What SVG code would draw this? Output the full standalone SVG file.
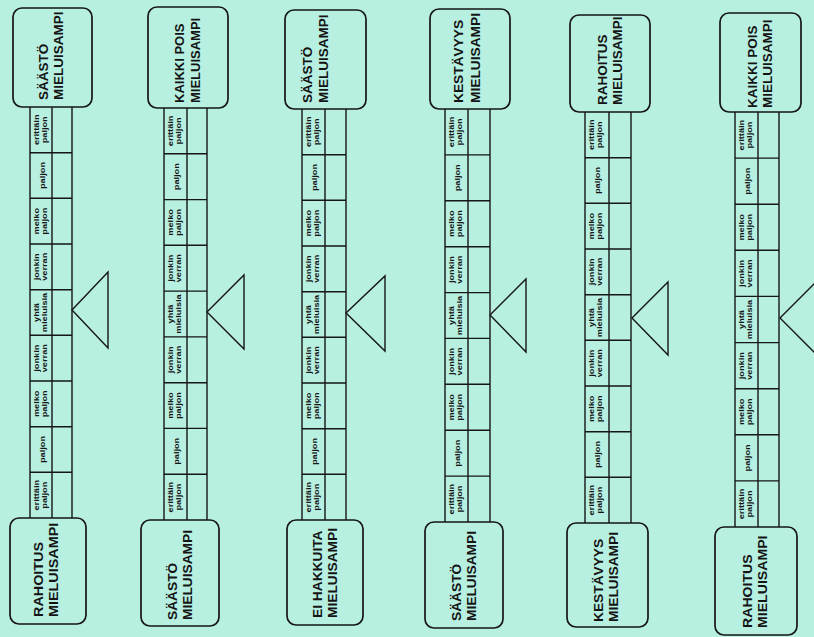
<svg xmlns="http://www.w3.org/2000/svg" width="814" height="637" viewBox="0 0 814 637">
<style>
.bg{fill:#b7efe1}
.box{fill:none;stroke:#161616;stroke-width:1.7}
.ln{fill:none;stroke:#161616;stroke-width:1.4}
.tri{fill:none;stroke:#161616;stroke-width:1.4;stroke-linejoin:miter}
.lbl{font-family:"Liberation Sans",Arial,sans-serif;font-weight:bold;font-size:12.5px;fill:#141414}
.cell{font-family:"Liberation Sans",Arial,sans-serif;font-weight:bold;font-size:8px;fill:#141414;text-anchor:middle}
</style>
<rect class="bg" x="0" y="0" width="814" height="637"/>

<g id="connectors">
<path class="ln" d="M30 107V518M52 107V518M72 107V518M30 152.7H72M30 198.3H72M30 244H72M30 289.7H72M30 335.3H72M30 381H72M30 426.7H72M30 472.3H72"/>
<path class="ln" d="M164 108V520M187 108V520M207 108V520M164 153.8H207M164 199.6H207M164 245.3H207M164 291.1H207M164 336.9H207M164 382.7H207M164 428.4H207M164 474.2H207"/>
<path class="ln" d="M302 109V520M325 109V520M346 109V520M302 154.7H346M302 200.3H346M302 246H346M302 291.7H346M302 337.3H346M302 383H346M302 428.7H346M302 474.3H346"/>
<path class="ln" d="M445 109V522M468 109V522M490 109V522M445 154.9H490M445 200.8H490M445 246.7H490M445 292.6H490M445 338.4H490M445 384.3H490M445 430.2H490M445 476.1H490"/>
<path class="ln" d="M585 112V523M609 112V523M631 112V523M585 157.7H631M585 203.3H631M585 249H631M585 294.7H631M585 340.3H631M585 386H631M585 431.7H631M585 477.3H631"/>
<path class="ln" d="M735 112V527M758 112V527M779 112V527M735 158.1H779M735 204.2H779M735 250.3H779M735 296.4H779M735 342.6H779M735 388.7H779M735 434.8H779M735 480.9H779"/>
</g>

<g id="pointers">
<polygon class="tri" points="72,310 108,272 108,348"/>
<polygon class="tri" points="207,312 244,275 244,349"/>
<polygon class="tri" points="346,313 385,276 385,351"/>
<polygon class="tri" points="490,315 526,279 526,352"/>
<polygon class="tri" points="632,318 668,282 668,355"/>
<polygon class="tri" points="780,318 816,282 816,354"/>
</g>

<g id="col1-top"><rect class="box" x="13" y="8" width="79" height="99" rx="9"/>
<text class="lbl" transform="translate(48,100) rotate(-90) scale(1.08,1)">SÄÄSTÖ<tspan x="0" dy="15">MIELUISAMPI</tspan></text></g>
<g id="col1-bottom"><rect class="box" x="10" y="518" width="76" height="106" rx="9"/>
<text class="lbl" transform="translate(43,617) rotate(-90) scale(1.15,1)">RAHOITUS<tspan x="0" dy="15">MIELUISAMPI</tspan></text></g>

<g id="col2-top"><rect class="box" x="148" y="7" width="80" height="101" rx="9"/>
<text class="lbl" transform="translate(184,103) rotate(-90) scale(1.04,1)">KAIKKI POIS<tspan x="0" dy="16">MIELUISAMPI</tspan></text></g>
<g id="col2-bottom"><rect class="box" x="141" y="520" width="78" height="106" rx="9"/>
<text class="lbl" transform="translate(177,620) rotate(-90) scale(1.1,1)">SÄÄSTÖ<tspan x="0" dy="15">MIELUISAMPI</tspan></text></g>

<g id="col3-top"><rect class="box" x="285" y="10" width="81" height="99" rx="9"/>
<text class="lbl" transform="translate(312,103) rotate(-90) scale(1.08,1)">SÄÄSTÖ<tspan x="0" dy="16">MIELUISAMPI</tspan></text></g>
<g id="col3-bottom"><rect class="box" x="287" y="520" width="76" height="105" rx="9"/>
<text class="lbl" transform="translate(322,618) rotate(-90) scale(1.1,1)">EI HAKKUITA<tspan x="0" dy="15">MIELUISAMPI</tspan></text></g>

<g id="col4-top"><rect class="box" x="430" y="9" width="80" height="100" rx="9"/>
<text class="lbl" transform="translate(463,103) rotate(-90) scale(1.1,1)">KESTÄVYYS<tspan x="0" dy="17">MIELUISAMPI</tspan></text></g>
<g id="col4-bottom"><rect class="box" x="425" y="522" width="78" height="106" rx="9"/>
<text class="lbl" transform="translate(461,621) rotate(-90) scale(1.1,1)">SÄÄSTÖ<tspan x="0" dy="15">MIELUISAMPI</tspan></text></g>

<g id="col5-top"><rect class="box" x="570" y="15" width="80" height="97" rx="9"/>
<text class="lbl" transform="translate(607,105) rotate(-90) scale(1.08,1)">RAHOITUS<tspan x="0" dy="15">MIELUISAMPI</tspan></text></g>
<g id="col5-bottom"><rect class="box" x="567" y="523" width="81" height="104" rx="9"/>
<text class="lbl" transform="translate(603,622) rotate(-90) scale(1.1,1)">KESTÄVYYS<tspan x="0" dy="15">MIELUISAMPI</tspan></text></g>

<g id="col6-top"><rect class="box" x="720" y="13" width="81" height="99" rx="9"/>
<text class="lbl" transform="translate(757,108) rotate(-90) scale(1.08,1)">KAIKKI POIS<tspan x="0" dy="15">MIELUISAMPI</tspan></text></g>
<g id="col6-bottom"><rect class="box" x="715" y="527" width="82" height="108" rx="9"/>
<text class="lbl" transform="translate(752,628) rotate(-90) scale(1.13,1)">RAHOITUS<tspan x="0" dy="15">MIELUISAMPI</tspan></text></g>

<g id="col1-cells">
<text class="cell" transform="translate(38.5,129.8) rotate(-90) scale(1.15,1)">erittäin<tspan x="0" dy="8.5">paljon</tspan></text>
<text class="cell" transform="translate(44.5,175.5) rotate(-90) scale(1.15,1)">paljon</text>
<text class="cell" transform="translate(38.5,221.2) rotate(-90) scale(1.15,1)">melko<tspan x="0" dy="8.5">paljon</tspan></text>
<text class="cell" transform="translate(38.5,266.8) rotate(-90) scale(1.15,1)">jonkin<tspan x="0" dy="8.5">verran</tspan></text>
<text class="cell" transform="translate(38.5,312.5) rotate(-90) scale(1.15,1)">yhtä<tspan x="0" dy="8.5">mieluisia</tspan></text>
<text class="cell" transform="translate(38.5,358.2) rotate(-90) scale(1.15,1)">jonkin<tspan x="0" dy="8.5">verran</tspan></text>
<text class="cell" transform="translate(38.5,403.8) rotate(-90) scale(1.15,1)">melko<tspan x="0" dy="8.5">paljon</tspan></text>
<text class="cell" transform="translate(44.5,449.5) rotate(-90) scale(1.15,1)">paljon</text>
<text class="cell" transform="translate(38.5,495.2) rotate(-90) scale(1.15,1)">erittäin<tspan x="0" dy="8.5">paljon</tspan></text>
</g>
<g id="col2-cells">
<text class="cell" transform="translate(172.5,130.9) rotate(-90) scale(1.15,1)">erittäin<tspan x="0" dy="8.5">paljon</tspan></text>
<text class="cell" transform="translate(178.5,176.7) rotate(-90) scale(1.15,1)">paljon</text>
<text class="cell" transform="translate(172.5,222.4) rotate(-90) scale(1.15,1)">melko<tspan x="0" dy="8.5">paljon</tspan></text>
<text class="cell" transform="translate(172.5,268.2) rotate(-90) scale(1.15,1)">jonkin<tspan x="0" dy="8.5">verran</tspan></text>
<text class="cell" transform="translate(172.5,314) rotate(-90) scale(1.15,1)">yhtä<tspan x="0" dy="8.5">mieluisia</tspan></text>
<text class="cell" transform="translate(172.5,359.8) rotate(-90) scale(1.15,1)">jonkin<tspan x="0" dy="8.5">verran</tspan></text>
<text class="cell" transform="translate(172.5,405.6) rotate(-90) scale(1.15,1)">melko<tspan x="0" dy="8.5">paljon</tspan></text>
<text class="cell" transform="translate(178.5,451.3) rotate(-90) scale(1.15,1)">paljon</text>
<text class="cell" transform="translate(172.5,497.1) rotate(-90) scale(1.15,1)">erittäin<tspan x="0" dy="8.5">paljon</tspan></text>
</g>
<g id="col3-cells">
<text class="cell" transform="translate(310.5,131.8) rotate(-90) scale(1.15,1)">erittäin<tspan x="0" dy="8.5">paljon</tspan></text>
<text class="cell" transform="translate(316.5,177.5) rotate(-90) scale(1.15,1)">paljon</text>
<text class="cell" transform="translate(310.5,223.2) rotate(-90) scale(1.15,1)">melko<tspan x="0" dy="8.5">paljon</tspan></text>
<text class="cell" transform="translate(310.5,268.8) rotate(-90) scale(1.15,1)">jonkin<tspan x="0" dy="8.5">verran</tspan></text>
<text class="cell" transform="translate(310.5,314.5) rotate(-90) scale(1.15,1)">yhtä<tspan x="0" dy="8.5">mieluisia</tspan></text>
<text class="cell" transform="translate(310.5,360.2) rotate(-90) scale(1.15,1)">jonkin<tspan x="0" dy="8.5">verran</tspan></text>
<text class="cell" transform="translate(310.5,405.8) rotate(-90) scale(1.15,1)">melko<tspan x="0" dy="8.5">paljon</tspan></text>
<text class="cell" transform="translate(316.5,451.5) rotate(-90) scale(1.15,1)">paljon</text>
<text class="cell" transform="translate(310.5,497.2) rotate(-90) scale(1.15,1)">erittäin<tspan x="0" dy="8.5">paljon</tspan></text>
</g>
<g id="col4-cells">
<text class="cell" transform="translate(453.5,131.9) rotate(-90) scale(1.15,1)">erittäin<tspan x="0" dy="8.5">paljon</tspan></text>
<text class="cell" transform="translate(459.5,177.8) rotate(-90) scale(1.15,1)">paljon</text>
<text class="cell" transform="translate(453.5,223.7) rotate(-90) scale(1.15,1)">melko<tspan x="0" dy="8.5">paljon</tspan></text>
<text class="cell" transform="translate(453.5,269.6) rotate(-90) scale(1.15,1)">jonkin<tspan x="0" dy="8.5">verran</tspan></text>
<text class="cell" transform="translate(453.5,315.5) rotate(-90) scale(1.15,1)">yhtä<tspan x="0" dy="8.5">mieluisia</tspan></text>
<text class="cell" transform="translate(453.5,361.4) rotate(-90) scale(1.15,1)">jonkin<tspan x="0" dy="8.5">verran</tspan></text>
<text class="cell" transform="translate(453.5,407.3) rotate(-90) scale(1.15,1)">melko<tspan x="0" dy="8.5">paljon</tspan></text>
<text class="cell" transform="translate(459.5,453.2) rotate(-90) scale(1.15,1)">paljon</text>
<text class="cell" transform="translate(453.5,499.1) rotate(-90) scale(1.15,1)">erittäin<tspan x="0" dy="8.5">paljon</tspan></text>
</g>
<g id="col5-cells">
<text class="cell" transform="translate(593.5,134.8) rotate(-90) scale(1.15,1)">erittäin<tspan x="0" dy="8.5">paljon</tspan></text>
<text class="cell" transform="translate(599.5,180.5) rotate(-90) scale(1.15,1)">paljon</text>
<text class="cell" transform="translate(593.5,226.2) rotate(-90) scale(1.15,1)">melko<tspan x="0" dy="8.5">paljon</tspan></text>
<text class="cell" transform="translate(593.5,271.8) rotate(-90) scale(1.15,1)">jonkin<tspan x="0" dy="8.5">verran</tspan></text>
<text class="cell" transform="translate(593.5,317.5) rotate(-90) scale(1.15,1)">yhtä<tspan x="0" dy="8.5">mieluisia</tspan></text>
<text class="cell" transform="translate(593.5,363.2) rotate(-90) scale(1.15,1)">jonkin<tspan x="0" dy="8.5">verran</tspan></text>
<text class="cell" transform="translate(593.5,408.8) rotate(-90) scale(1.15,1)">melko<tspan x="0" dy="8.5">paljon</tspan></text>
<text class="cell" transform="translate(599.5,454.5) rotate(-90) scale(1.15,1)">paljon</text>
<text class="cell" transform="translate(593.5,500.2) rotate(-90) scale(1.15,1)">erittäin<tspan x="0" dy="8.5">paljon</tspan></text>
</g>
<g id="col6-cells">
<text class="cell" transform="translate(743.5,135.1) rotate(-90) scale(1.15,1)">erittäin<tspan x="0" dy="8.5">paljon</tspan></text>
<text class="cell" transform="translate(749.5,181.2) rotate(-90) scale(1.15,1)">paljon</text>
<text class="cell" transform="translate(743.5,227.3) rotate(-90) scale(1.15,1)">melko<tspan x="0" dy="8.5">paljon</tspan></text>
<text class="cell" transform="translate(743.5,273.4) rotate(-90) scale(1.15,1)">jonkin<tspan x="0" dy="8.5">verran</tspan></text>
<text class="cell" transform="translate(743.5,319.5) rotate(-90) scale(1.15,1)">yhtä<tspan x="0" dy="8.5">mieluisia</tspan></text>
<text class="cell" transform="translate(743.5,365.7) rotate(-90) scale(1.15,1)">jonkin<tspan x="0" dy="8.5">verran</tspan></text>
<text class="cell" transform="translate(743.5,411.8) rotate(-90) scale(1.15,1)">melko<tspan x="0" dy="8.5">paljon</tspan></text>
<text class="cell" transform="translate(749.5,457.9) rotate(-90) scale(1.15,1)">paljon</text>
<text class="cell" transform="translate(743.5,504) rotate(-90) scale(1.15,1)">erittäin<tspan x="0" dy="8.5">paljon</tspan></text>
</g>
</svg>
